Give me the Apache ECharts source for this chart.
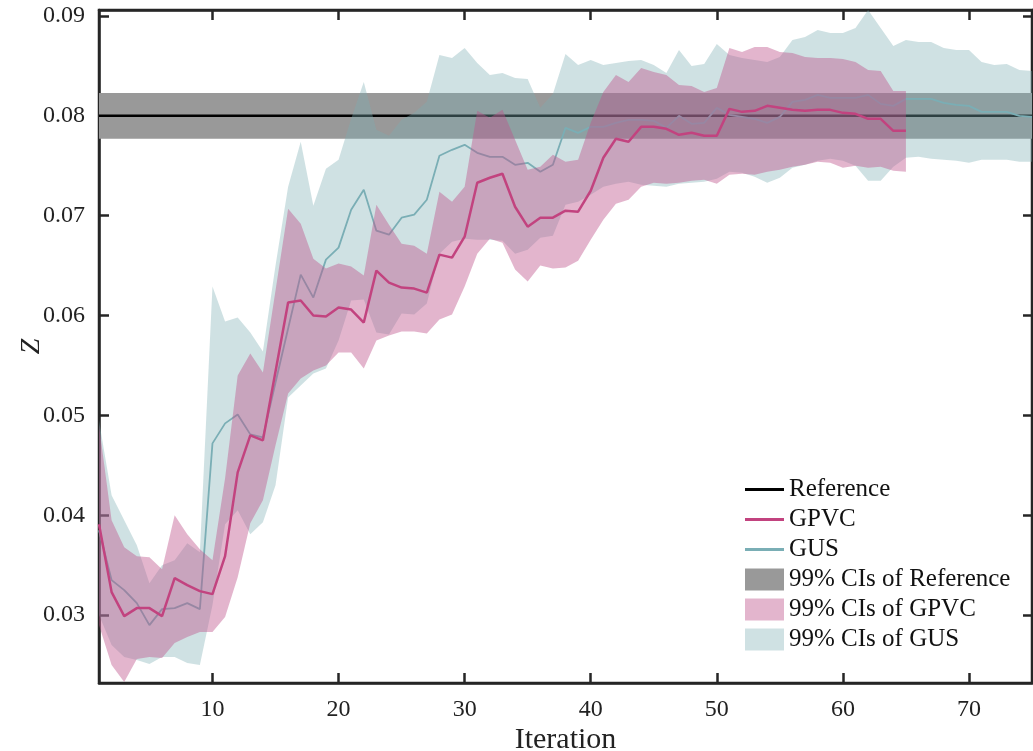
<!DOCTYPE html>
<html><head><meta charset="utf-8">
<script src="https://cdn.jsdelivr.net/npm/echarts@6/dist/echarts.min.js"></script>
<style>html,body{margin:0;padding:0;background:#fff}#c{width:1033px;height:751px}</style>
</head><body><div id="c"></div>
<script>
// ---------- data (index 0 = iteration 1) ----------
const xTicks = [10, 20, 30, 40, 50, 60, 70];
const yTicks = [0.03, 0.04, 0.05, 0.06, 0.07, 0.08, 0.09];
const nIterations = 75;

const referenceValue = 0.08;
const referenceUpper = 0.0823;
const referenceLower = 0.0777;

const gpvcMean = [
  0.0391,0.0323,0.0299,0.0307,0.0307,0.0299,0.0337,0.0330,0.0324,0.0321,
  0.0359,0.0443,0.0480,0.0475,0.0544,0.0613,0.0615,0.0600,0.0599,0.0608,
  0.0606,0.0593,0.0645,0.0633,0.0628,0.0627,0.0623,0.0661,0.0658,0.0679,
  0.0733,0.0738,0.0742,0.0709,0.0689,0.0698,0.0698,0.0705,0.0704,0.0725,
  0.0758,0.0777,0.0774,0.0789,0.0789,0.0787,0.0781,0.0783,0.0780,0.0780,
  0.0807,0.0804,0.0805,0.0810,0.0808,0.0806,0.0805,0.0806,0.0806,0.0803,
  0.0802,0.0797,0.0797,0.0785,0.0785];
const gpvcUpper = [
  0.0490,0.0395,0.0368,0.0359,0.0358,0.0346,0.0400,0.0381,0.0366,0.0355,
  0.0437,0.0540,0.0562,0.0543,0.0625,0.0707,0.0692,0.0657,0.0647,0.0652,
  0.0649,0.0640,0.0711,0.0691,0.0672,0.0670,0.0662,0.0724,0.0714,0.0729,
  0.0805,0.0798,0.0806,0.0776,0.0746,0.0749,0.0761,0.0754,0.0756,0.0793,
  0.0824,0.0841,0.0834,0.0848,0.0844,0.0841,0.0831,0.0830,0.0824,0.0828,
  0.0868,0.0864,0.0869,0.0869,0.0864,0.0863,0.0859,0.0858,0.0858,0.0857,
  0.0854,0.0846,0.0845,0.0825,0.0825];
const gpvcLower = [
  0.0290,0.0250,0.0233,0.0256,0.0258,0.0257,0.0272,0.0278,0.0283,0.0283,
  0.0298,0.0338,0.0392,0.0415,0.0470,0.0522,0.0537,0.0545,0.0550,0.0563,
  0.0563,0.0547,0.0575,0.0580,0.0584,0.0584,0.0582,0.0596,0.0601,0.0629,
  0.0662,0.0677,0.0673,0.0646,0.0634,0.0650,0.0647,0.0648,0.0655,0.0676,
  0.0696,0.0712,0.0716,0.0729,0.0733,0.0732,0.0733,0.0735,0.0736,0.0732,
  0.0741,0.0742,0.0741,0.0744,0.0746,0.0749,0.0751,0.0754,0.0753,0.0748,
  0.0750,0.0748,0.0749,0.0745,0.0744];

const gusMean = [
  0.0385,0.0335,0.0325,0.0312,0.0290,0.0306,0.0307,0.0312,0.0306,0.0472,
  0.0492,0.0501,0.0481,0.0478,0.0533,0.0587,0.0641,0.0618,0.0656,0.0668,
  0.0706,0.0726,0.0685,0.0681,0.0698,0.0701,0.0716,0.0760,0.0766,0.0771,
  0.0763,0.0759,0.0759,0.0751,0.0753,0.0744,0.0751,0.0788,0.0783,0.0789,
  0.0789,0.0793,0.0796,0.0796,0.0795,0.0788,0.0800,0.0792,0.0793,0.0808,
  0.0801,0.0799,0.0797,0.0793,0.0799,0.0814,0.0816,0.0821,0.0818,0.0818,
  0.0818,0.0821,0.0812,0.0810,0.0817,0.0817,0.0817,0.0813,0.0811,0.0810,
  0.0804,0.0804,0.0804,0.0800,0.0799];
const gusUpper = [
  0.0495,0.0420,0.0395,0.0370,0.0332,0.0350,0.0355,0.0372,0.0363,0.0629,
  0.0594,0.0598,0.0583,0.0564,0.0650,0.0729,0.0774,0.0710,0.0747,0.0756,
  0.0797,0.0834,0.0786,0.0780,0.0796,0.0803,0.0814,0.0861,0.0858,0.0868,
  0.0853,0.0841,0.0843,0.0838,0.0837,0.0808,0.0822,0.0862,0.0851,0.0856,
  0.0851,0.0853,0.0855,0.0856,0.0851,0.0843,0.0866,0.0850,0.0852,0.0872,
  0.0861,0.0858,0.0856,0.0854,0.0859,0.0876,0.0879,0.0886,0.0883,0.0883,
  0.0888,0.0906,0.0888,0.0870,0.0876,0.0874,0.0874,0.0868,0.0866,0.0866,
  0.0854,0.0851,0.0852,0.0846,0.0845];
const gusLower = [
  0.0300,0.0270,0.0258,0.0255,0.0251,0.0258,0.0258,0.0252,0.0250,0.0310,
  0.0391,0.0405,0.0381,0.0393,0.0430,0.0518,0.0530,0.0542,0.0547,0.0575,
  0.0615,0.0616,0.0583,0.0581,0.0602,0.0601,0.0612,0.0662,0.0674,0.0677,
  0.0676,0.0676,0.0675,0.0662,0.0666,0.0678,0.0680,0.0711,0.0714,0.0721,
  0.0729,0.0732,0.0734,0.0731,0.0730,0.0729,0.0732,0.0733,0.0734,0.0737,
  0.0744,0.0743,0.0739,0.0733,0.0738,0.0748,0.0751,0.0755,0.0757,0.0755,
  0.0750,0.0735,0.0735,0.0749,0.0758,0.0759,0.0757,0.0756,0.0755,0.0753,
  0.0756,0.0756,0.0756,0.0754,0.0754];

// ---------- helpers ----------
const FONT = "'Liberation Serif','Times New Roman','DejaVu Serif',serif";
const AX = '#262626';
const pts = arr => arr.map((v, i) => [i + 1, v]);
const constant = v => Array.from({length: nIterations}, () => v);

const C_GPVC = '#c2437f', C_GUS = '#7aaeb5';
const A_GPVC = 'rgba(190,83,139,0.43)', A_GUS = 'rgba(125,174,179,0.37)', A_REF = '#999999';
const LINE_ICON = 'path://M0,0h39v0.01h-39zM0,9.5h39v3h-39zM0,21.99h39v0.01h-39z';

// confidence band: one polygon through the axis scales (upper forward, lower backward)
const band = (name, upper, lower, color, z) => ({
  name, type: 'custom', z, silent: true, clip: true, color,
  itemStyle: {color},
  data: upper.map((v, i) => [i + 1, lower[i], v]),
  encode: {x: 0, y: [1, 2]},
  renderItem: (params, api) => {
    if (params.dataIndex !== 0) return null;
    const top = upper.map((v, i) => api.coord([i + 1, v]));
    const bot = lower.map((v, i) => api.coord([i + 1, v])).reverse();
    return {type: 'polygon', silent: true, shape: {points: top.concat(bot)}, style: {fill: color}};
  }
});
const line = (name, data, color, width, z) => ({
  name, type: 'line', data, z, symbol: 'none', silent: true, color,
  lineStyle: {color, width}, emphasis: {disabled: true}
});

const chart = echarts.init(document.getElementById('c'), null, {renderer: 'canvas'});
const axisCommon = {
  type: 'value', splitLine: {show: false},
  axisLine: {show: true, onZero: false, lineStyle: {color: AX, width: 2.5}},
};
chart.setOption({
  animation: false,
  backgroundColor: '#ffffff',
  grid: {left: 99, right: 1, top: 10, bottom: 68, containLabel: false, outerBoundsMode: 'none',
         show: true, borderColor: AX, borderWidth: 2.5, backgroundColor: 'transparent'},
  xAxis: [
    Object.assign({}, axisCommon, {
      min: 1, max: nIterations, position: 'bottom',
      axisTick: {show: true, inside: true, length: 10, customValues: xTicks, lineStyle: {color: AX, width: 2.5}},
      axisLabel: {show: true, customValues: xTicks, margin: 15, fontFamily: FONT, fontSize: 24, color: '#222'},
      name: 'Iteration', nameLocation: 'middle', nameGap: 42, nameMoveOverlap: false,
      nameTextStyle: {fontFamily: FONT, fontSize: 30, color: '#222'}
    }),
    Object.assign({}, axisCommon, {
      min: 1, max: nIterations, position: 'top',
      axisTick: {show: true, inside: true, length: 10, customValues: xTicks, lineStyle: {color: AX, width: 2.5}},
      axisLabel: {show: false, customValues: xTicks}
    })
  ],
  yAxis: [
    Object.assign({}, axisCommon, {
      min: 0.0232, max: 0.0906, position: 'left',
      axisTick: {show: true, inside: true, length: 10, customValues: yTicks, lineStyle: {color: AX, width: 2.5}},
      axisLabel: {show: true, customValues: yTicks, margin: 14, fontFamily: FONT, fontSize: 24, color: '#222',
                  formatter: v => v.toFixed(2)},
      name: 'Z', nameLocation: 'middle', nameGap: 53, nameRotate: 90, nameMoveOverlap: false,
      nameTextStyle: {fontFamily: FONT, fontSize: 28, fontStyle: 'italic', color: '#222'}
    }),
    Object.assign({}, axisCommon, {
      min: 0.0232, max: 0.0906, position: 'right',
      axisTick: {show: true, inside: true, length: 9, customValues: yTicks, lineStyle: {color: AX, width: 2.5}},
      axisLabel: {show: false, customValues: yTicks}
    })
  ],
  legend: {
    orient: 'vertical', left: 745, top: 477, padding: 0, itemGap: 5, z: 20,
    itemWidth: 39, itemHeight: 22, symbolKeepAspect: false, selectedMode: false,
    textStyle: {fontFamily: FONT, fontSize: 25, color: '#111'},
    data: [
      {name: 'Reference', icon: LINE_ICON, itemStyle: {borderWidth: 0}},
      {name: 'GPVC', icon: LINE_ICON, itemStyle: {borderWidth: 0}},
      {name: 'GUS', icon: LINE_ICON, itemStyle: {borderWidth: 0}},
      {name: '99% CIs of Reference', icon: 'rect', itemStyle: {borderWidth: 0}},
      {name: '99% CIs of GPVC', icon: 'rect', itemStyle: {borderWidth: 0}},
      {name: '99% CIs of GUS', icon: 'rect', itemStyle: {borderWidth: 0}}
    ]
  },
  series: [
    band('99% CIs of Reference', constant(referenceUpper), constant(referenceLower), A_REF, 1),
    line('Reference', pts(constant(referenceValue)), '#000000', 2.5, 2),
    band('99% CIs of GUS', gusUpper, gusLower, A_GUS, 3),
    line('GUS', pts(gusMean), C_GUS, 1.8, 4),
    band('99% CIs of GPVC', gpvcUpper, gpvcLower, A_GPVC, 5),
    line('GPVC', pts(gpvcMean), C_GPVC, 2.5, 6),
    {name: 'frameTop', type: 'line', xAxisIndex: 1, yAxisIndex: 1, data: [], symbol: 'none', silent: true}
  ]
});
</script></body></html>
